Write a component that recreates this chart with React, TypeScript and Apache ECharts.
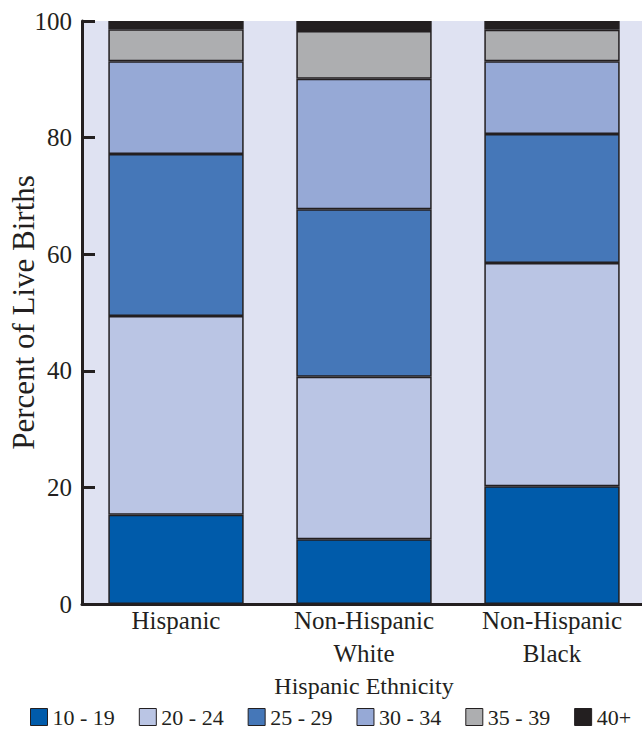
import React, { useEffect, useRef } from "react";
import * as echarts from "echarts";

const categories = ["Hispanic", "Non-Hispanic\nWhite", "Non-Hispanic\nBlack"];
const ageGroups = ["10 - 19", "20 - 24", "25 - 29", "30 - 34", "35 - 39", "40+"];
const age10to19 = [15.3, 11.1, 20.2];
const age20to24 = [34.1, 27.9, 38.3];
const age25to29 = [27.8, 28.7, 22.1];
const age30to34 = [15.9, 22.4, 12.5];
const age35to39 = [5.5, 8.2, 5.4];
const age40plus = [1.4, 1.7, 1.5];
const yTicks = [0, 20, 40, 60, 80, 100];

const seriesValues = [age10to19, age20to24, age25to29, age30to34, age35to39, age40plus];
const colors = ["#005BAA", "#BAC5E4", "#4577B8", "#96A9D6", "#ADAEB0", "#231F20"];

const FONT = "'Liberation Serif', 'Times New Roman', serif";
const INK = "#231F20";

export default function App() {
  const ref = useRef<HTMLDivElement>(null);
  useEffect(() => {
    if (!ref.current) return;
    const chart = echarts.init(ref.current, undefined, { renderer: "svg" });
    chart.setOption({
      animation: false,
      textStyle: { fontFamily: FONT, color: INK },
      grid: {
        left: 82,
        top: 21,
        width: 564,
        height: 583,
        containLabel: false,
        outerBoundsMode: "none",
        show: true,
        backgroundColor: "#DFE2F2",
        borderWidth: 0,
      },
      xAxis: {
        type: "category",
        data: categories,
        axisLine: { lineStyle: { color: INK, width: 3 } },
        axisTick: { inside: true, length: 13, lineStyle: { color: INK, width: 3 } },
        axisLabel: {
          interval: 0,
          hideOverlap: false,
          fontFamily: FONT,
          fontSize: 25,
          lineHeight: 33,
          color: INK,
          margin: 0,
        },
        name: "Hispanic Ethnicity",
        nameLocation: "middle",
        nameGap: 70,
        nameMoveOverlap: false,
        nameTextStyle: { fontFamily: FONT, fontSize: 24, color: INK },
      },
      yAxis: {
        type: "value",
        min: 0,
        max: 100,
        interval: 20,
        axisLine: { show: true, lineStyle: { color: INK, width: 3 } },
        axisTick: { show: true, inside: true, length: 13, lineStyle: { color: INK, width: 3 } },
        splitLine: { show: false },
        axisLabel: {
          fontFamily: FONT,
          fontSize: 25,
          color: INK,
          margin: 10,
          formatter: (v: number) => (yTicks.includes(v) ? String(v) : ""),
        },
        name: "Percent of Live Births",
        nameLocation: "middle",
        nameGap: 43,
        nameMoveOverlap: false,
        nameTextStyle: { fontFamily: FONT, fontSize: 31, color: INK },
      },
      legend: {
        data: ageGroups,
        left: 30,
        top: 706,
        padding: 0,
        itemWidth: 17,
        itemHeight: 17,
        itemGap: 24,
        icon: "rect",
        itemStyle: { borderColor: INK, borderWidth: 1 },
        textStyle: { fontFamily: FONT, fontSize: 22, color: INK },
      },
      series: ageGroups.map((name, i) => ({
        name,
        type: "bar",
        stack: "total",
        data: seriesValues[i],
        barWidth: "72%",
        itemStyle: { color: colors[i], borderColor: INK, borderWidth: 1.5 },
      })),
    });
    return () => chart.dispose();
  }, []);
  return (
    <div
      ref={ref}
      style={{ position: "fixed", left: 0, top: 0, width: 642, height: 734, background: "#fff" }}
    />
  );
}
